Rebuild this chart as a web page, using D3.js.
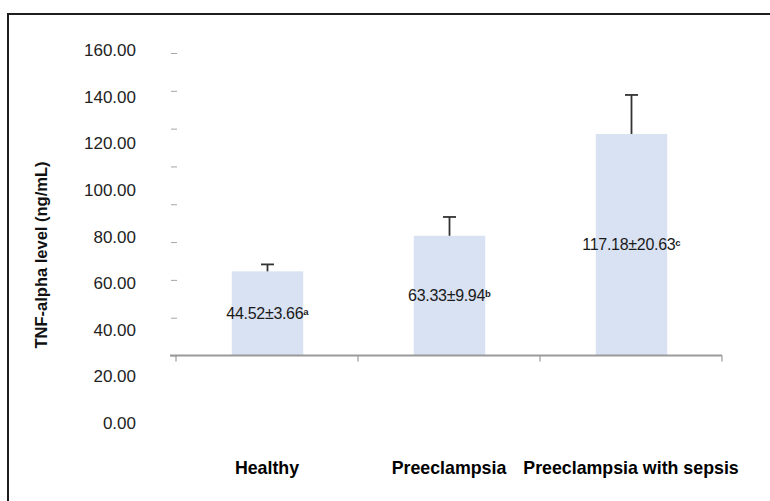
<!DOCTYPE html>
<html>
<head>
<meta charset="utf-8">
<script src="https://cdn.jsdelivr.net/npm/d3@7/dist/d3.min.js"></script>
<style>
  html, body { margin: 0; padding: 0; background: #fff; }
  svg { display: block; font-family: "Liberation Sans", Arial, sans-serif; }
</style>
</head>
<body>
<svg id="chart" width="770" height="501"></svg>
<script>
// TNF-alpha levels per group (mean ± SD, superscript group letters)
const categories = ["Healthy", "Preeclampsia", "Preeclampsia with sepsis"];
const means = [44.52, 63.33, 117.18];
const sds = [3.66, 9.94, 20.63];
const letters = ["a", "b", "c"];
const yTicks = [0, 20, 40, 60, 80, 100, 120, 140, 160];
const yTickLabels = ["0.00", "20.00", "40.00", "60.00", "80.00", "100.00", "120.00", "140.00", "160.00"];
const yTitle = "TNF-alpha level (ng/mL)";

const rows = categories.map((c, i) => ({ cat: c, mean: means[i], sd: sds[i], letter: letters[i] }));

const svg = d3.select("#chart");

// outer frame (runs off the right and bottom edges)
svg.append("rect")
  .attr("x", 8).attr("y", 14)
  .attr("width", 800).attr("height", 520)
  .attr("fill", "none")
  .attr("stroke", "#1e1e1e")
  .attr("stroke-width", 2);

const x = d3.scaleBand().domain(categories).range([176, 722]).padding(0);
const y = d3.scaleLinear().domain([0, 160]).range([355.5, 53]);
// tick labels sit on their own, wider-spaced column
const yLab = d3.scaleLinear().domain([0, 160]).range([423, 50]);

const barW = 71.5;
const cx = c => x(c) + x.bandwidth() / 2 + 0.5;

// y tick marks (no axis line)
const yAxis = d3.axisLeft(y).tickValues(yTicks).tickSize(6).tickFormat("");
const gy = svg.append("g").attr("transform", "translate(177,0)").call(yAxis);
gy.select(".domain").remove();
gy.selectAll(".tick line").attr("stroke", "#a6a6a6").attr("stroke-width", 1);

// y tick labels
svg.append("g").selectAll("text")
  .data(yTicks)
  .join("text")
  .attr("x", 136)
  .attr("y", d => yLab(d))
  .attr("dy", "0.36em")
  .attr("text-anchor", "end")
  .attr("font-size", 17)
  .attr("fill", "#222")
  .text((d, i) => yTickLabels[i]);

// bars
svg.append("g").selectAll("rect")
  .data(rows)
  .join("rect")
  .attr("x", d => cx(d.cat) - barW / 2)
  .attr("y", d => y(d.mean))
  .attr("width", barW)
  .attr("height", d => y(0) - y(d.mean))
  .attr("fill", "#d9e2f3");

// error bars (upper half)
const eb = svg.append("g").attr("stroke", "#333").attr("stroke-width", 1.8);
eb.selectAll("line.v")
  .data(rows)
  .join("line")
  .attr("class", "v")
  .attr("x1", d => cx(d.cat)).attr("x2", d => cx(d.cat))
  .attr("y1", d => y(d.mean)).attr("y2", d => y(d.mean + d.sd));
eb.selectAll("line.cap")
  .data(rows)
  .join("line")
  .attr("class", "cap")
  .attr("x1", d => cx(d.cat) - 6.5).attr("x2", d => cx(d.cat) + 6.5)
  .attr("y1", d => y(d.mean + d.sd)).attr("y2", d => y(d.mean + d.sd));

// x axis line with ticks at the category boundaries
const xAxisG = svg.append("g").attr("stroke", "#9a9a9a");
xAxisG.append("line")
  .attr("x1", 170).attr("x2", x.range()[1])
  .attr("y1", y(0)).attr("y2", y(0))
  .attr("stroke-width", 2);
const edges = categories.map(c => x(c)).concat([x.range()[1]]);
xAxisG.selectAll("line.tk")
  .data(edges)
  .join("line")
  .attr("class", "tk")
  .attr("x1", d => d).attr("x2", d => d)
  .attr("y1", y(0)).attr("y2", y(0) + 6)
  .attr("stroke-width", 1.2);

// value labels in the middle of each bar
const vl = svg.append("g").selectAll("text")
  .data(rows)
  .join("text")
  .attr("x", d => cx(d.cat))
  .attr("y", d => (y(d.mean) + y(0)) / 2)
  .attr("dy", "0.36em")
  .attr("text-anchor", "middle")
  .attr("font-size", 16)
  .attr("letter-spacing", -0.3)
  .attr("fill", "#1a1a1a");
vl.append("tspan").text(d => d.mean.toFixed(2) + "±" + d.sd.toFixed(2));
vl.append("tspan")
  .attr("font-size", 9.5)
  .attr("font-weight", "bold")
  .attr("dy", -4)
  .attr("letter-spacing", 0)
  .text(d => d.letter);

// category labels
svg.append("g").selectAll("text")
  .data(categories)
  .join("text")
  .attr("x", d => x(d) + x.bandwidth() / 2)
  .attr("y", 474)
  .attr("text-anchor", "middle")
  .attr("font-size", 17.8)
  .attr("font-weight", "bold")
  .attr("fill", "#000")
  .text(d => d);

// y axis title
svg.append("text")
  .attr("transform", "translate(47,255) rotate(-90)")
  .attr("text-anchor", "middle")
  .attr("font-size", 16.5)
  .attr("font-weight", "bold")
  .attr("fill", "#111")
  .text(yTitle);
</script>
</body>
</html>
